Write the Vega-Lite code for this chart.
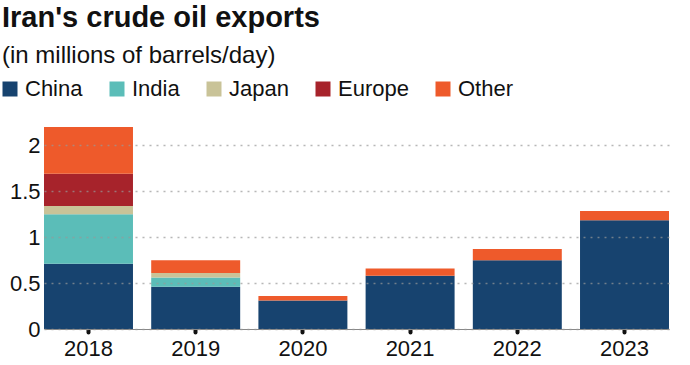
{
  "$schema": "https://vega.github.io/schema/vega-lite/v6.json",
  "autosize": "none",
  "width": 625,
  "height": 202,
  "padding": {"left": 44, "top": 127, "right": 21, "bottom": 36},
  "background": "white",
  "title": {
    "text": "Iran's crude oil exports",
    "subtitle": "(in millions of barrels/day)",
    "anchor": "start",
    "frame": "group",
    "dx": -42,
    "offset": 10,
    "font": "Liberation Sans",
    "fontSize": 29,
    "fontWeight": "bold",
    "color": "#111",
    "subtitleFont": "Liberation Sans",
    "subtitleFontSize": 24,
    "subtitleColor": "#111",
    "subtitlePadding": 11
  },
  "config": {
    "view": {"stroke": null},
    "font": "Liberation Sans"
  },
  "data": {
    "values": [
      {"year": "2018", "dest": "China", "ord": 1, "v": 0.71},
      {"year": "2018", "dest": "India", "ord": 2, "v": 0.54},
      {"year": "2018", "dest": "Japan", "ord": 3, "v": 0.09},
      {"year": "2018", "dest": "Europe", "ord": 4, "v": 0.35},
      {"year": "2018", "dest": "Other", "ord": 5, "v": 0.51},
      {"year": "2019", "dest": "China", "ord": 1, "v": 0.46},
      {"year": "2019", "dest": "India", "ord": 2, "v": 0.10},
      {"year": "2019", "dest": "Japan", "ord": 3, "v": 0.05},
      {"year": "2019", "dest": "Other", "ord": 5, "v": 0.14},
      {"year": "2020", "dest": "China", "ord": 1, "v": 0.31},
      {"year": "2020", "dest": "Other", "ord": 5, "v": 0.05},
      {"year": "2021", "dest": "China", "ord": 1, "v": 0.58},
      {"year": "2021", "dest": "Other", "ord": 5, "v": 0.08},
      {"year": "2022", "dest": "China", "ord": 1, "v": 0.75},
      {"year": "2022", "dest": "Other", "ord": 5, "v": 0.12},
      {"year": "2023", "dest": "China", "ord": 1, "v": 1.185},
      {"year": "2023", "dest": "Other", "ord": 5, "v": 0.10}
    ]
  },
  "mark": {"type": "bar"},
  "encoding": {
    "x": {
      "field": "year",
      "type": "ordinal",
      "scale": {"paddingInner": 0.17, "paddingOuter": 0},
      "axis": {
        "title": null,
        "labelAngle": 0,
        "labelFontSize": 22,
        "labelColor": "#111",
        "labelPadding": 6,
        "domainColor": "#888",
        "domainWidth": 1,
        "tickColor": "#111",
        "tickSize": 3,
        "tickWidth": 4,
        "tickCap": "round",
        "grid": false
      }
    },
    "y": {
      "field": "v",
      "type": "quantitative",
      "stack": "zero",
      "scale": {"domain": [0, 2.2], "nice": false},
      "axis": {
        "title": null,
        "values": [0, 0.5, 1, 1.5, 2],
        "format": "~g",
        "labelFontSize": 22,
        "labelColor": "#111",
        "labelPadding": 4,
        "domain": false,
        "ticks": false,
        "grid": true,
        "gridColor": "#999",
        "gridOpacity": 0.7,
        "gridDash": [2, 5],
        "gridWidth": 1.5,
        "zindex": 1
      }
    },
    "color": {
      "field": "dest",
      "type": "nominal",
      "scale": {
        "domain": ["China", "India", "Japan", "Europe", "Other"],
        "range": ["#17436f", "#5bbdb8", "#c9c398", "#a7232b", "#ee5a2b"]
      },
      "legend": {
        "title": null,
        "orient": "none",
        "legendX": -45,
        "legendY": -49,
        "direction": "horizontal",
        "symbolType": "square",
        "symbolSize": 225,
        "symbolStrokeWidth": 0,
        "labelFontSize": 22,
        "labelColor": "#111",
        "labelOffset": 4,
        "columnPadding": 23
      }
    },
    "order": {"field": "ord", "type": "quantitative"}
  }
}
